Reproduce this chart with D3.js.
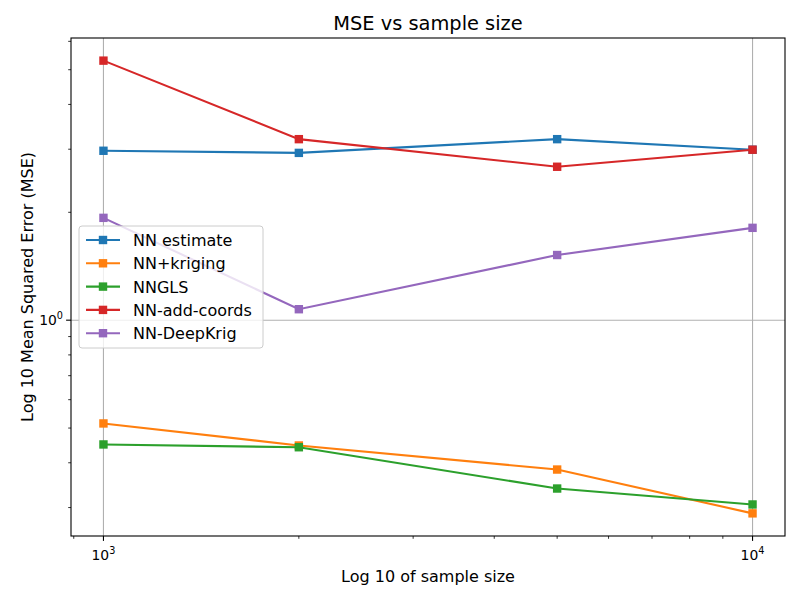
<!DOCTYPE html>
<html>
<head>
<meta charset="utf-8">
<script src="https://cdn.jsdelivr.net/npm/d3@7"></script>
<style>
	body { margin: 0; background: #fff; }
	svg { font-family: "DejaVu Sans", sans-serif; }
</style>
</head>
<body>
<svg id="chart"></svg>
<script>
// sample sizes and MSE values per method
var sampleSizes = [1000, 2000, 5000, 10000];
var nnEstimate = [2.97, 2.93, 3.2, 2.99];
var nnKriging = [0.515, 0.447, 0.383, 0.289];
var nngls = [0.45, 0.442, 0.339, 0.306];
var nnAddCoords = [5.3, 3.2, 2.68, 2.99];
var nnDeepKrig = [1.93, 1.073, 1.52, 1.81];

var seriesNames = ["NN estimate", "NN+kriging", "NNGLS", "NN-add-coords", "NN-DeepKrig"];
var seriesColors = ["#1f77b4", "#ff7f0e", "#2ca02c", "#d62728", "#9467bd"];

var xMajorTicks = [1000, 10000];
var xMinorTicks = [900, 2000, 3000, 4000, 5000, 6000, 7000, 8000, 9000];
var yMajorTicks = [1];
var yMinorTicks = [0.3, 0.4, 0.5, 0.6, 0.7, 0.8, 0.9, 2, 3, 4, 5, 6];

var width = 800, height = 600;
var margin = { top: 38, right: 15, bottom: 64, left: 71 };

var svg = d3.select("#chart").attr("width", width).attr("height", height);

var allSeries = [nnEstimate, nnKriging, nngls, nnAddCoords, nnDeepKrig];
var allValues = [].concat.apply([], allSeries);

// log-space 5% padding like matplotlib
function padLog(lo, hi) {
	var a = Math.log10(lo), b = Math.log10(hi), p = (b - a) * 0.05;
	return [Math.pow(10, a - p), Math.pow(10, b + p)];
}

var xScale = d3.scaleLog()
	.domain(padLog(d3.min(sampleSizes), d3.max(sampleSizes)))
	.range([margin.left, width - margin.right]);
var yScale = d3.scaleLog()
	.domain(padLog(d3.min(allValues), d3.max(allValues)))
	.range([height - margin.bottom, margin.top]);

var x0 = margin.left, x1 = width - margin.right;
var y0 = height - margin.bottom, y1 = margin.top;

// grid
var grid = svg.append("g");
grid.selectAll(".gx").data(xMajorTicks).enter().append("line")
	.attr("x1", function(d) { return xScale(d); })
	.attr("x2", function(d) { return xScale(d); })
	.attr("y1", y0).attr("y2", y1)
	.attr("stroke", "#b0b0b0").attr("stroke-width", 1.1);
grid.selectAll(".gy").data(yMajorTicks).enter().append("line")
	.attr("y1", function(d) { return yScale(d); })
	.attr("y2", function(d) { return yScale(d); })
	.attr("x1", x0).attr("x2", x1)
	.attr("stroke", "#b0b0b0").attr("stroke-width", 1.1);

// lines and markers
var line = d3.line()
	.x(function(d, i) { return xScale(sampleSizes[i]); })
	.y(function(d) { return yScale(d); });

var marks = svg.append("g");
allSeries.forEach(function(values, s) {
	marks.append("path")
		.attr("d", line(values))
		.attr("fill", "none")
		.attr("stroke", seriesColors[s])
		.attr("stroke-width", 2.1);
	marks.selectAll(".m" + s).data(values).enter().append("rect")
		.attr("x", function(d, i) { return xScale(sampleSizes[i]) - 4.2; })
		.attr("y", function(d) { return yScale(d) - 4.2; })
		.attr("width", 8.4).attr("height", 8.4)
		.attr("fill", seriesColors[s]);
});

// axes frame
svg.append("rect")
	.attr("x", x0).attr("y", y1)
	.attr("width", x1 - x0).attr("height", y0 - y1)
	.attr("fill", "none").attr("stroke", "#000").attr("stroke-width", 1.1);

// x ticks
var xt = svg.append("g");
xt.selectAll(".xmaj").data(xMajorTicks).enter().append("line")
	.attr("x1", function(d) { return xScale(d); }).attr("x2", function(d) { return xScale(d); })
	.attr("y1", y0).attr("y2", y0 + 4.9)
	.attr("stroke", "#000").attr("stroke-width", 1.1);
xt.selectAll(".xmin").data(xMinorTicks).enter().append("line")
	.attr("x1", function(d) { return xScale(d); }).attr("x2", function(d) { return xScale(d); })
	.attr("y1", y0).attr("y2", y0 + 2.8)
	.attr("stroke", "#000").attr("stroke-width", 0.8);
var xl = xt.selectAll(".xlab").data(xMajorTicks).enter().append("text")
	.attr("x", function(d) { return xScale(d); })
	.attr("y", y0 + 24)
	.attr("text-anchor", "middle")
	.style("font-size", "13.9px");
xl.append("tspan").text("10");
xl.append("tspan").attr("dy", -6).style("font-size", "9.7px")
	.text(function(d) { return Math.round(Math.log10(d)); });

// y ticks
var yt = svg.append("g");
yt.selectAll(".ymaj").data(yMajorTicks).enter().append("line")
	.attr("y1", function(d) { return yScale(d); }).attr("y2", function(d) { return yScale(d); })
	.attr("x1", x0).attr("x2", x0 - 4.9)
	.attr("stroke", "#000").attr("stroke-width", 1.1);
yt.selectAll(".ymin").data(yMinorTicks).enter().append("line")
	.attr("y1", function(d) { return yScale(d); }).attr("y2", function(d) { return yScale(d); })
	.attr("x1", x0).attr("x2", x0 - 2.8)
	.attr("stroke", "#000").attr("stroke-width", 0.8);
var yl = yt.selectAll(".ylab").data(yMajorTicks).enter().append("text")
	.attr("x", x0 - 8)
	.attr("y", function(d) { return yScale(d) + 5; })
	.attr("text-anchor", "end")
	.style("font-size", "13.9px");
yl.append("tspan").text("10");
yl.append("tspan").attr("dy", -6).style("font-size", "9.7px")
	.text(function(d) { return Math.round(Math.log10(d)); });

// title and axis labels
svg.append("text")
	.attr("x", (x0 + x1) / 2).attr("y", 30)
	.attr("text-anchor", "middle")
	.style("font-size", "19.4px")
	.text("MSE vs sample size");
svg.append("text")
	.attr("x", (x0 + x1) / 2).attr("y", 582)
	.attr("text-anchor", "middle")
	.style("font-size", "16px")
	.text("Log 10 of sample size");
svg.append("text")
	.attr("transform", "translate(33," + ((y0 + y1) / 2) + ") rotate(-90)")
	.attr("text-anchor", "middle")
	.style("font-size", "16px")
	.text("Log 10 Mean Squared Error (MSE)");

// legend
var legend = svg.append("g").attr("transform", "translate(79,226)");
legend.append("rect")
	.attr("width", 184).attr("height", 122)
	.attr("rx", 3).attr("ry", 3)
	.attr("fill", "#fff").attr("fill-opacity", 0.8)
	.attr("stroke", "#cccccc").attr("stroke-width", 1);
var items = legend.selectAll(".item").data(seriesNames).enter().append("g")
	.attr("transform", function(d, i) { return "translate(0," + (14 + i * 23.3) + ")"; });
items.append("line")
	.attr("x1", 7).attr("x2", 41)
	.attr("stroke", function(d, i) { return seriesColors[i]; })
	.attr("stroke-width", 2.1);
items.append("rect")
	.attr("x", 19.8).attr("y", -4.2).attr("width", 8.4).attr("height", 8.4)
	.attr("fill", function(d, i) { return seriesColors[i]; });
items.append("text")
	.attr("x", 54).attr("y", 6)
	.style("font-size", "16px")
	.text(function(d) { return d; });
</script>
</body>
</html>
